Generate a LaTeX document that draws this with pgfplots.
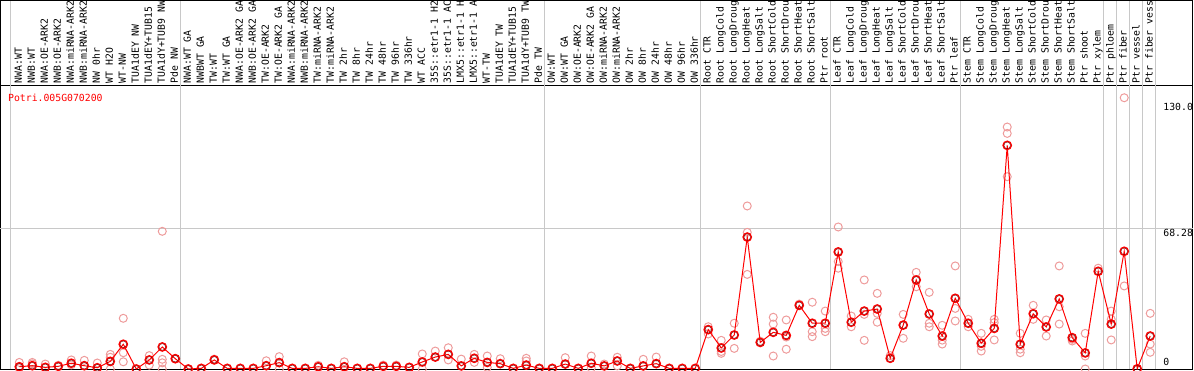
\documentclass[border=0pt]{standalone}
\usepackage{pgfplots}
\pgfplotsset{compat=1.18}
\usepackage{fontspec}
\newfontfamily\pix{DejaVu Sans Mono}
\newcommand{\pixsize}{\pix\fontsize{9.8pt}{10pt}\selectfont}
\definecolor{gridc}{RGB}{200,200,200}
\definecolor{repc}{RGB}{238,155,155}
\definecolor{darkring}{RGB}{110,0,0}
\begin{document}
\begin{tikzpicture}[x=1pt,y=1pt]
\useasboundingbox (-0.5,-1) rectangle (1193.5,369);
\clip (-0.5,-1) rectangle (1193.5,369);
\begin{axis}[
 scale only axis, width=1192.4pt, height=283pt,
 xmin=-1.446, xmax=90.28, ymin=0, ymax=137.3,
 clip mode=individual,
 axis line style={line width=1pt, black},
 tick style={draw=none},
 ytick=\empty,
 xtick={0,...,87},
 xticklabels={{NWA:WT},{NWB:WT},{NWA:OE-ARK2},{NWB:OE-ARK2},{NWA:miRNA-ARK2},{NWB:miRNA-ARK2},{NW 0hr},{WT H2O},{WT-NW},{TUA1dEY NW},{TUA1dEY+TUB15 NW},{TUA1dY+TUB9 NW},{Pde NW},
 {NWA:WT GA},{NWBWT GA},{TW:WT},{TW:WT GA},{NWA:OE-ARK2 GA},{NWB:OE-ARK2 GA},{TW:OE-ARK2},{TW:OE-ARK2 GA},{NWA:miRNA-ARK2 GA},{NWB:miRNA-ARK2 GA},{TW:miRNA-ARK2},{TW:miRNA-ARK2 GA},{TW 2hr},{TW 8hr},{TW 24hr},{TW 48hr},{TW 96hr},{TW 336hr},{WT ACC},{35S::etr1-1 H2O},{35S::etr1-1 ACC},{LMX5::etr1-1 H2O},{LMX5::etr1-1 ACC},{WT-TW},{TUA1dEY TW},{TUA1dEY+TUB15 TW},{TUA1dY+TUB9 TW},{Pde TW},
 {OW:WT},{OW:WT GA},{OW:OE-ARK2},{OW:OE-ARK2 GA},{OW:miRNA-ARK2},{OW:miRNA-ARK2 GA},{OW 2hr},{OW 8hr},{OW 24hr},{OW 48hr},{OW 96hr},{OW 336hr},
 {Root CTR},{Root LongCold},{Root LongDrought},{Root LongHeat},{Root LongSalt},{Root ShortCold},{Root ShortDrought},{Root ShortHeat},{Root ShortSalt},{Ptr root},
 {Leaf CTR},{Leaf LongCold},{Leaf LongDrought},{Leaf LongHeat},{Leaf LongSalt},{Leaf ShortCold},{Leaf ShortDrought},{Leaf ShortHeat},{Leaf ShortSalt},{Ptr leaf},
 {Stem CTR},{Stem LongCold},{Stem LongDrought},{Stem LongHeat},{Stem LongSalt},{Stem ShortCold},{Stem ShortDrought},{Stem ShortHeat},{Stem ShortSalt},{Ptr shoot},
 {Ptr xylem},{Ptr phloem},{Ptr fiber},{Ptr vessel},{Ptr fiber vessel}},
 xticklabel pos=upper,
 xticklabel style={rotate=90, anchor=west, font=\pixsize, inner xsep=2.5pt, inner ysep=0pt, text height=5pt, text depth=0pt},
 extra x ticks={-0.65,12.4,40.4,52.4,62.4,72.4,83.4,84.4,85.4,86.4,87.4},
 extra x tick labels={},
 extra x tick style={grid=major, major grid style={gridc, line width=1pt}},
 extra y ticks={68.28},
 extra y tick labels={},
 extra y tick style={grid=major, major grid style={gridc, line width=1pt}},
]
\pgfplotsinvokeforeach{-0.65,12.4,40.4,52.4,62.4,72.4,83.4,84.4,85.4,86.4,87.4}{
  \draw[gridc, line width=1pt] (axis cs:#1,137.3) -- (axis cs:#1,179.5);
}
\draw[line width=1pt] (axis cs:-1.446,137.3) -- (axis cs:-1.446,178.8) -- (axis cs:90.28,178.8) -- (axis cs:90.28,137.3);
\node[anchor=base west, inner sep=0pt, text=red, font=\pixsize] at (axis cs:-0.87,130.0) {Potri.005G070200};
\node[anchor=base west, inner sep=0pt, font=\pixsize] at (axis cs:88.0,125.3) {130.0};
\node[anchor=base west, inner sep=0pt, font=\pixsize] at (axis cs:88.0,64.5) {68.28};
\node[anchor=base west, inner sep=0pt, font=\pixsize] at (axis cs:88.0,1.6) {0};

\addplot[only marks, mark=o, mark size=4pt, mark options={draw=repc, line width=1pt}] coordinates {
(0,3.2)(0,0.5)(1,3.2)(1,2.5)(2,2.4)(3,1.8)(4,4.4)(4,2.0)(5,4.2)(6,2.9)
(7,7.1)(7,5.7)(7,0)(8,24.6)(8,7.9)(8,3.5)(10,6.5)(10,1.9)(11,66.8)(11,4.7)(11,3.0)(11,0)(12,5.0)(13,0)
(15,4.8)(19,4.0)(20,6.0)(20,0)(23,1.8)(25,3.5)(28,1.9)(29,1.9)(31,7.3)(31,0)(32,8.7)(33,10.3)(33,4.4)
(34,4.8)(35,7.1)(35,3.2)(36,6.3)(36,0.8)(37,5.0)(39,5.2)(39,3.9)(42,5.5)(44,6.3)(44,0.5)(45,2.4)
(46,5.7)(46,1.5)(48,4.7)(49,5.8)
(53,20.5)(53,17.0)(54,13.9)(54,7.6)(54,8.5)(55,22.2)(55,10.0)(56,79.1)(56,66.3)(56,45.9)(57,13.5)
(58,25.1)(58,21.8)(58,6.3)(59,23.8)(59,15.5)(59,9.6)(60,31.5)(61,32.4)(61,18.1)(61,15.7)(62,28.1)(62,19.7)(62,18.1)
(63,68.9)(63,52.1)(63,48.9)(64,25.7)(64,20.5)(65,43.2)(65,26.5)(65,13.9)(66,36.7)(66,27.0)(66,22.7)(67,6.5)
(68,26.5)(68,14.9)(69,46.9)(69,39.9)(70,37.2)(70,22.2)(70,20.5)(71,21.2)(71,12.1)(71,14.0)(72,50.0)(72,29.4)(72,23.3)
(73,24.1)(73,20.5)(74,17.3)(74,11.0)(74,8.7)(75,24.1)(75,22.5)(75,14.1)(76,117.4)(76,114.3)(76,93.3)
(77,17.3)(77,9.6)(77,7.9)(78,30.9)(78,24.1)(79,23.8)(79,16.0)(80,50.0)(80,30.2)(80,21.8)(81,14.4)(81,13.6)
(82,17.3)(82,6.3)(82,0)(83,48.9)(84,28.1)(84,24.1)(84,14.1)(85,131.6)(85,40.3)(86,0)(87,27.0)(87,12.1)(87,8.1)
};
\addplot[red, line width=1pt, mark=o, mark size=4.2pt, mark options={draw=red, line width=1.3pt}] coordinates {
(0,1.1)(1,1.6)(2,0.8)(3,1.3)(4,2.8)(5,1.6)(6,0.6)(7,3.7)(8,12.0)(9,0)(10,4.4)(11,10.7)(12,5.0)
(13,0)(14,0.3)(15,4.4)(16,0.3)(17,0.3)(18,0.3)(19,1.6)(20,3.1)(21,0.3)(22,0.3)(23,1.1)(24,0.3)(25,1.1)(26,0.3)(27,0.3)
(28,1.3)(29,1.3)(30,0.8)(31,3.4)(32,5.8)(33,7.1)(34,1.5)(35,5.2)(36,3.2)(37,2.6)(38,0.3)(39,1.9)(40,0.3)
(41,0.3)(42,2.4)(43,0.3)(44,2.8)(45,1.5)(46,3.9)(47,0.3)(48,1.5)(49,2.6)(50,0.3)(51,0.3)(52,0.3)
(53,19.1)(54,10.2)(55,16.5)(56,64.0)(57,12.9)(58,17.8)(59,16.3)(60,30.9)(61,22.2)(62,22.2)
(63,56.8)(64,22.7)(65,28.1)(66,29.1)(67,5.2)(68,21.3)(69,43.2)(70,26.7)(71,16.0)(72,34.3)
(73,22.2)(74,12.5)(75,19.7)(76,108.5)(77,12.0)(78,26.8)(79,20.4)(80,34.0)(81,15.2)(82,7.8)
(83,47.4)(84,21.8)(85,57.1)(86,0.1)(87,16.0)
};
\addplot[only marks, mark=o, mark size=3.3pt, mark options={draw=darkring, line width=0.4pt}] coordinates {
(0,1.1)(1,1.6)(2,0.8)(3,1.3)(4,2.8)(5,1.6)(6,0.6)(7,3.7)(8,12.0)(9,0)(10,4.4)(11,10.7)(12,5.0)
(13,0)(14,0.3)(15,4.4)(16,0.3)(17,0.3)(18,0.3)(19,1.6)(20,3.1)(21,0.3)(22,0.3)(23,1.1)(24,0.3)(25,1.1)(26,0.3)(27,0.3)
(28,1.3)(29,1.3)(30,0.8)(31,3.4)(32,5.8)(33,7.1)(34,1.5)(35,5.2)(36,3.2)(37,2.6)(38,0.3)(39,1.9)(40,0.3)
(41,0.3)(42,2.4)(43,0.3)(44,2.8)(45,1.5)(46,3.9)(47,0.3)(48,1.5)(49,2.6)(50,0.3)(51,0.3)(52,0.3)
(53,19.1)(54,10.2)(55,16.5)(56,64.0)(57,12.9)(58,17.8)(59,16.3)(60,30.9)(61,22.2)(62,22.2)
(63,56.8)(64,22.7)(65,28.1)(66,29.1)(67,5.2)(68,21.3)(69,43.2)(70,26.7)(71,16.0)(72,34.3)
(73,22.2)(74,12.5)(75,19.7)(76,108.5)(77,12.0)(78,26.8)(79,20.4)(80,34.0)(81,15.2)(82,7.8)
(83,47.4)(84,21.8)(85,57.1)(86,0.1)(87,16.0)
};
\end{axis}
\end{tikzpicture}
\end{document}
